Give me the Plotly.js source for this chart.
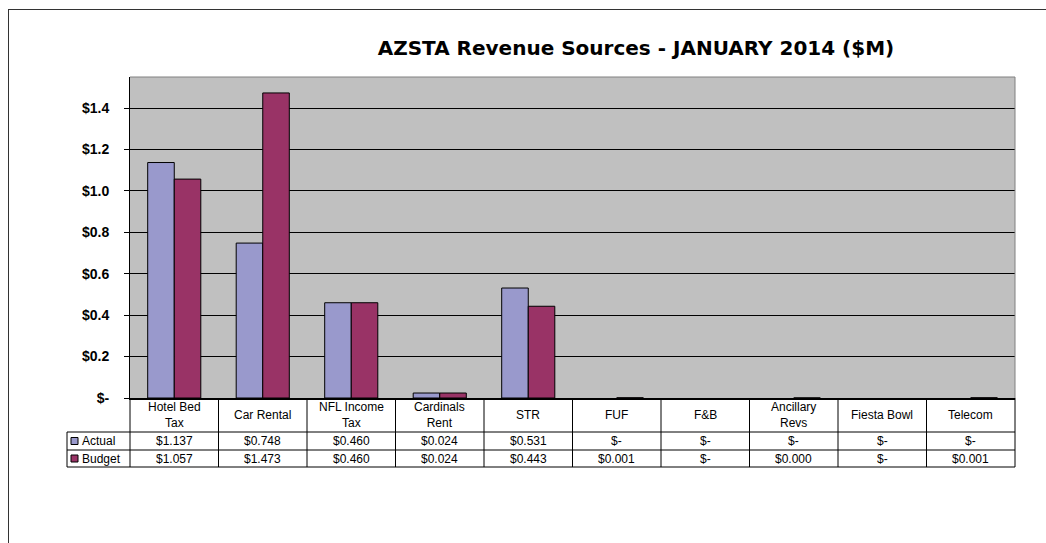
<!DOCTYPE html>
<html>
<head>
<meta charset="utf-8">
<script src="https://cdn.plot.ly/plotly-3.0.1.min.js"></script>
<style>
html,body{margin:0;padding:0;background:#fff;overflow:hidden;}
#frame{position:absolute;left:8px;top:9px;width:1100px;height:600px;border-left:1px solid #333;border-top:1px solid #333;}
#chart{position:absolute;left:0;top:0;width:1046px;height:543px;}
</style>
</head>
<body>
<div id="frame"></div>
<div id="chart"></div>
<script>
// ---- data ----
const categories = ["Hotel Bed<br>Tax","Car Rental","NFL Income<br>Tax","Cardinals<br>Rent","STR","FUF","F&B","Ancillary<br>Revs","Fiesta Bowl","Telecom"];
const actual = [1.137, 0.748, 0.460, 0.024, 0.531, 0, 0, 0, 0, 0];
const budget = [1.057, 1.473, 0.460, 0.024, 0.443, 0.001, 0, 0.0004, 0, 0.001];
const seriesNames = ["Actual", "Budget"];
const yTickVals = [0, 0.2, 0.4, 0.6, 0.8, 1.0, 1.2, 1.4];
const yTickText = ["$-", "$0.2", "$0.4", "$0.6", "$0.8", "$1.0", "$1.2", "$1.4"];

// ---- styling ----
const colors = ["#9999CC", "#993366"];
const W = 1046, H = 543;
const margin = {l:130, r:31, t:77, b:145};
const plotW = W - margin.l - margin.r;
const plotH = H - margin.t - margin.b;
const xRange = [-0.5, categories.length - 0.5];
const yRange = [0, 1.55];
const font = "Liberation Sans, Arial, sans-serif";

const idx = categories.map((_, i) => i);
function xp(v){ return (v - xRange[0]) / (xRange[1] - xRange[0]); }
function px2x(p){ return (p - margin.l) / plotW; }
function py(pixBelow){ return -pixBelow / plotH; } // pixels below the x axis
function fmt(v){ return v === 0 ? "$-" : "$" + v.toFixed(3); }

const traces = [actual, budget].map((vals, k) => ({
  type: "bar",
  x: idx,
  y: vals.map(v => v === 0 ? null : v),
  name: seriesNames[k],
  marker: {color: colors[k], line: {color: "#000", width: 1}},
  hoverinfo: "skip",
  showlegend: false
}));

const shapes = [];
const annotations = [];
const lineStyle = {color: "#000", width: 1};
const rowY = [0, 34, 52, 69]; // header top, header bottom, row1 bottom, row2 bottom (px below axis)

// horizontal lines of the table
shapes.push({type:"line", xref:"paper", yref:"paper", x0:px2x(67), x1:1, y0:py(rowY[1]), y1:py(rowY[1]), line:lineStyle});
shapes.push({type:"line", xref:"paper", yref:"paper", x0:px2x(67), x1:1, y0:py(rowY[2]), y1:py(rowY[2]), line:lineStyle});
shapes.push({type:"line", xref:"paper", yref:"paper", x0:px2x(67), x1:1, y0:py(rowY[3]), y1:py(rowY[3]), line:lineStyle});
// vertical lines
for (let i = 0; i <= categories.length; i++) {
  const xv = xp(i - 0.5);
  shapes.push({type:"line", xref:"paper", yref:"paper", x0:xv, x1:xv, y0:0, y1:py(rowY[3]), line:lineStyle});
}
shapes.push({type:"line", xref:"paper", yref:"paper", x0:px2x(67), x1:px2x(67), y0:py(rowY[1]), y1:py(rowY[3]), line:lineStyle});

// header labels
categories.forEach((c, i) => {
  annotations.push({xref:"paper", yref:"paper", x:xp(i), y:py((rowY[0]+rowY[1])/2), text:c, showarrow:false,
    xanchor:"center", yanchor:"middle", font:{family:font, size:12, color:"#000"}});
});
// data rows
[actual, budget].forEach((vals, k) => {
  const yc = py((rowY[k+1] + rowY[k+2]) / 2);
  vals.forEach((v, i) => {
    annotations.push({xref:"paper", yref:"paper", x:xp(i), y:yc, text:fmt(v), showarrow:false,
      xanchor:"center", yanchor:"middle", font:{family:font, size:12, color:"#000"}});
  });
  // legend key
  shapes.push({type:"rect", xref:"paper", yref:"paper", x0:px2x(71), x1:px2x(78), y0:yc - 3.5/plotH, y1:yc + 3.5/plotH,
    fillcolor:colors[k], line:{color:"#000", width:1}});
  annotations.push({xref:"paper", yref:"paper", x:px2x(80), y:yc, text:seriesNames[k], showarrow:false,
    xanchor:"left", yanchor:"middle", font:{family:font, size:12, color:"#000"}});
});
// plot area border (top & right, gray)
shapes.push({type:"line", xref:"paper", yref:"paper", x0:0, x1:1, y0:1, y1:1, line:{color:"#808080", width:1}});
shapes.push({type:"line", xref:"paper", yref:"paper", x0:1, x1:1, y0:0, y1:1, line:{color:"#808080", width:1}});

const layout = {
  width: W, height: H,
  margin: margin,
  paper_bgcolor: "rgba(0,0,0,0)",
  plot_bgcolor: "#C0C0C0",
  barmode: "group",
  bargap: 0.4,
  bargroupgap: 0,
  title: {text: "<b>AZSTA Revenue Sources - JANUARY 2014 ($M)</b>", x: 0.608, xanchor: "center",
    y: 1 - 48/H, yanchor: "middle", font: {family: "DejaVu Sans, sans-serif", size: 20, color: "#000"}},
  xaxis: {range: xRange, showticklabels: false, ticks: "", showgrid: false, zeroline: false,
    showline: true, linecolor: "#000", linewidth: 2, fixedrange: true},
  yaxis: {range: yRange, tickvals: yTickVals, ticktext: yTickText, ticks: "outside", ticklen: 5,
    tickcolor: "#000", ticklabelstandoff: 12, showgrid: true, gridcolor: "#000", gridwidth: 1,
    zeroline: false, showline: true, linecolor: "#000", linewidth: 1,
    tickfont: {family: font, size: 14, color: "#000", weight: "bold"}, fixedrange: true},
  shapes: shapes,
  annotations: annotations
};

Plotly.newPlot("chart", traces, layout, {displayModeBar: false, staticPlot: true});
</script>
</body>
</html>
